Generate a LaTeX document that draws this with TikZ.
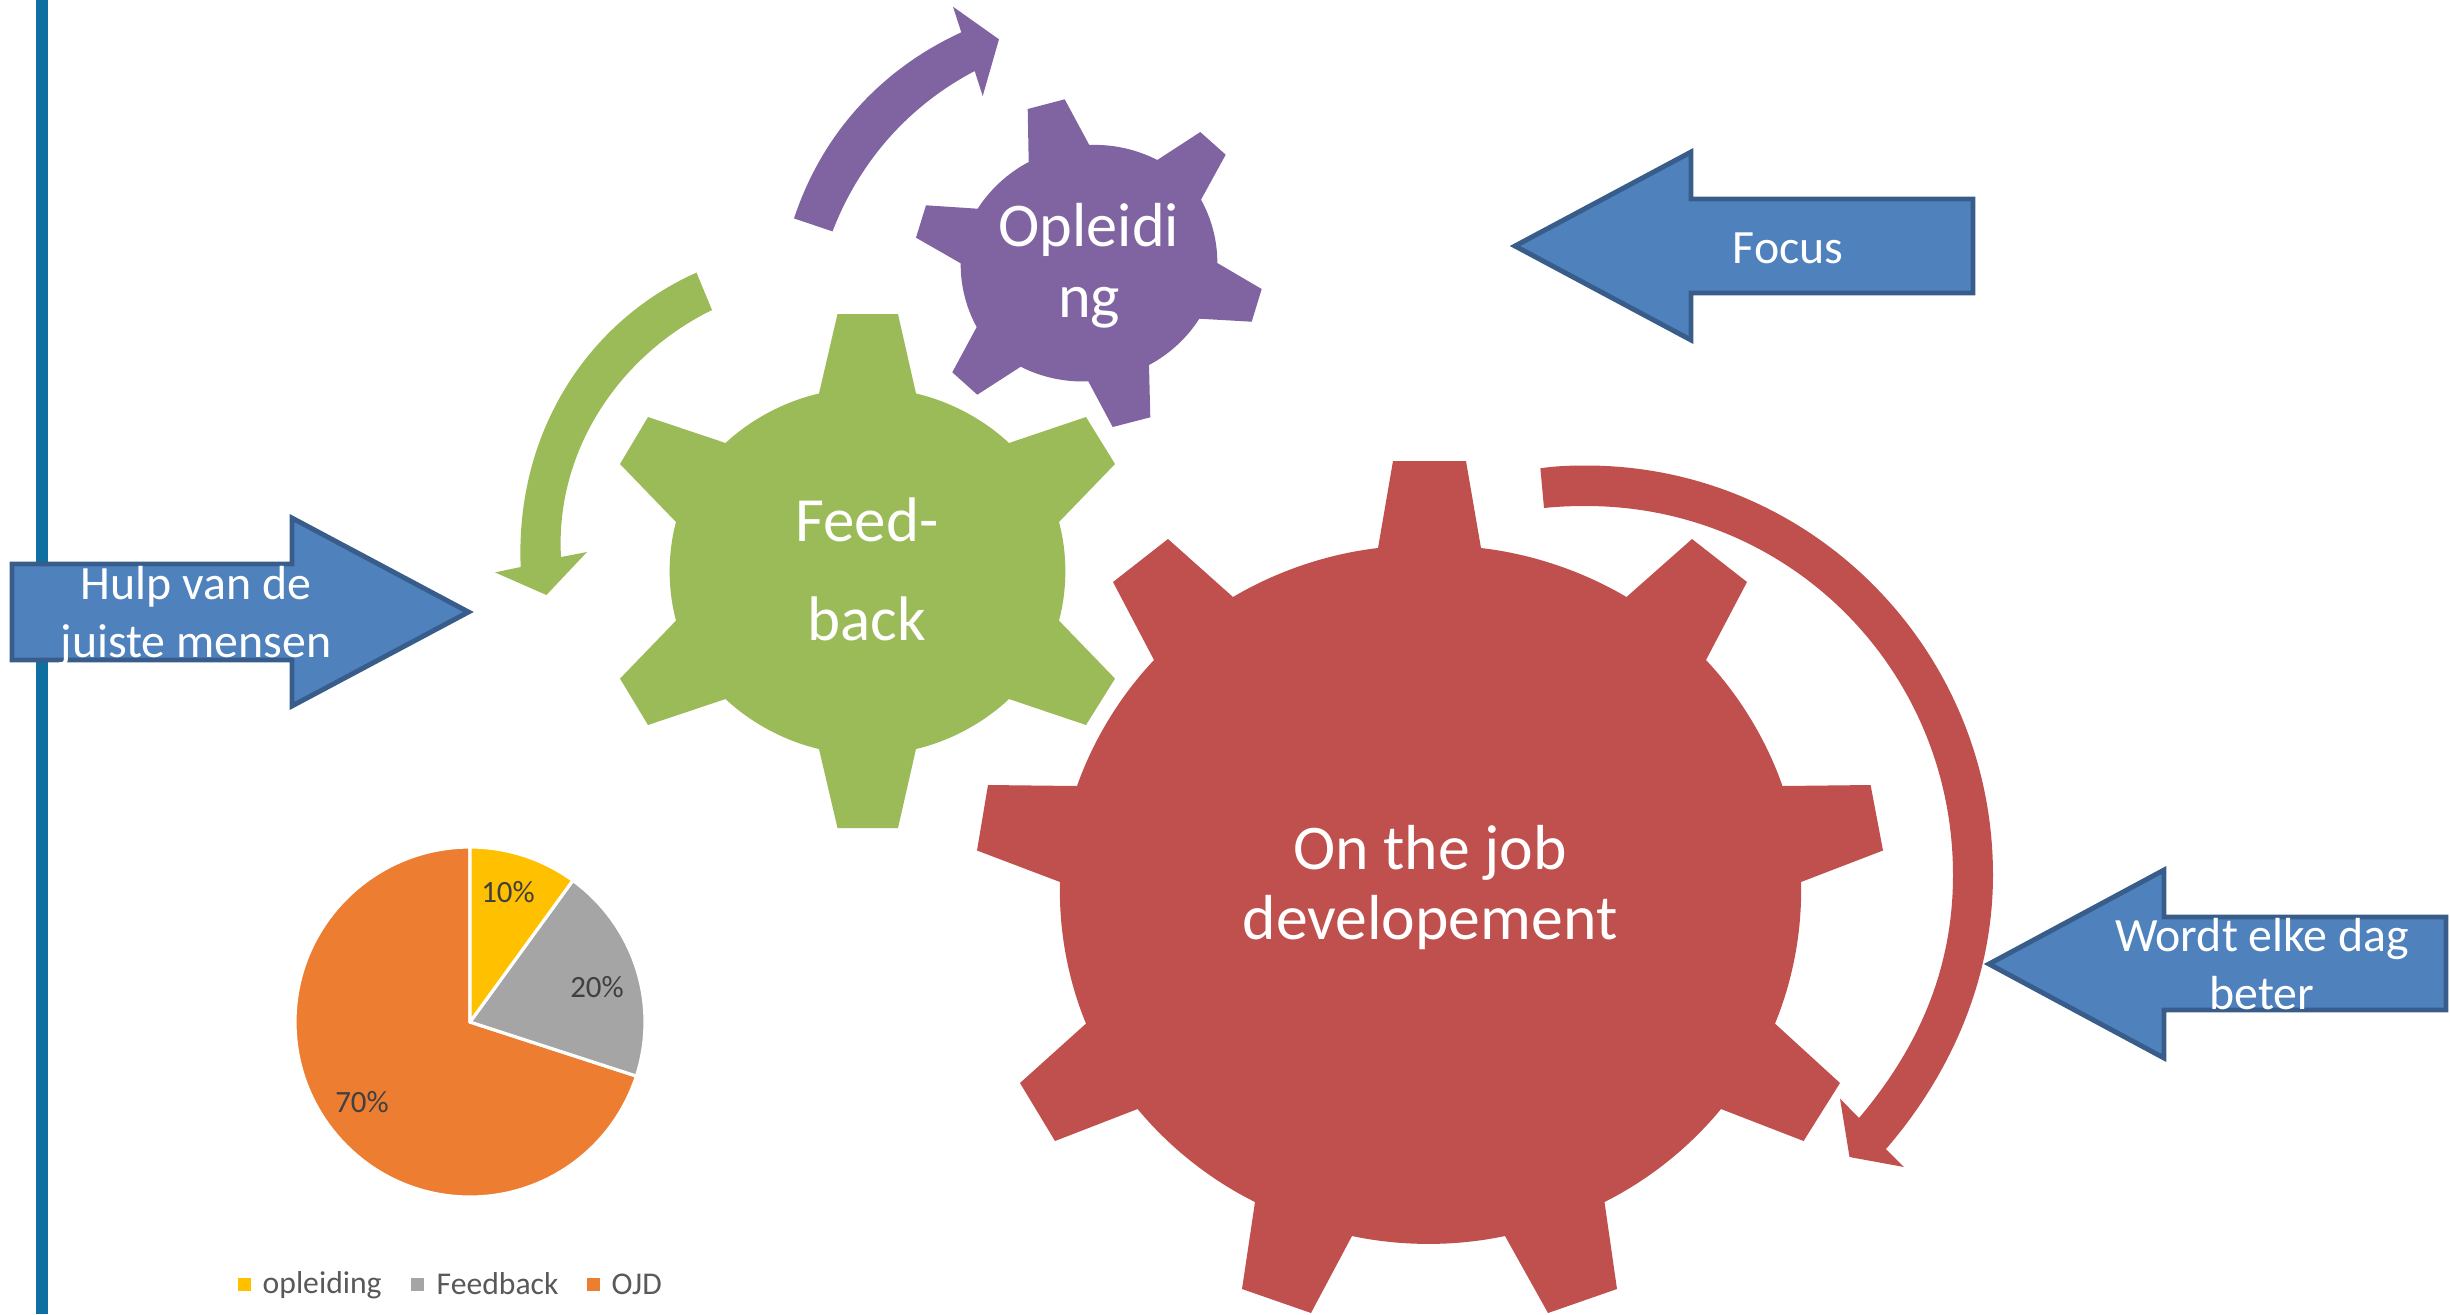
\documentclass[tikz,border=0pt]{standalone}
\usepackage{fontspec}
\setmainfont{Carlito}
\definecolor{gearred}{HTML}{C0504D}
\definecolor{geargreen}{HTML}{9BBB59}
\definecolor{gearpurple}{HTML}{8064A2}
\definecolor{blockblue}{HTML}{4F81BD}
\definecolor{blockedge}{HTML}{385D8A}
\definecolor{barblue}{HTML}{0F6FA0}
\definecolor{pieyellow}{HTML}{FFC000}
\definecolor{piegray}{HTML}{A5A5A5}
\definecolor{pieorange}{HTML}{ED7D31}
\definecolor{labelgray}{HTML}{404040}
\definecolor{legendgray}{HTML}{595959}
\tikzset{
  blockarrow/.style={fill=blockblue,draw=blockedge,line width=1.4pt,miter limit=10},
  slice/.style={draw=white,line width=0.9pt,line join=round},
  geartext/.style={text=white,align=center,inner sep=0pt},
  blocktext/.style={text=white,align=center,inner sep=0pt,font=\fontsize{13.6}{16.6}\selectfont},
  pctlabel/.style={text=labelgray,inner sep=0pt,font=\fontsize{8.8}{10}\selectfont},
  legendlabel/.style={text=legendgray,inner sep=0pt,anchor=west,font=\fontsize{9}{10}\selectfont},
}
\begin{document}
\begin{tikzpicture}[x=0.01cm,y=-0.01cm]
\useasboundingbox (0,0) rectangle (2450,1314);
% vertical bar
\fill[barblue] (36,0) rectangle (48,1314);

% red gear
\fill[gearred,every to/.style={bend left=12,looseness=0.85}] (1393,461)--(1466,461)--(1481,548) to (1626.5,597)--(1692,539)--(1747,582)--(1706,660) to (1782.5,786)--(1870.6,785)--(1883,850.5)--(1801,882) to (1775,1023.6)--(1840,1083)--(1803.6,1141)--(1721,1109) to (1604.5,1202)--(1617,1289)--(1548,1313)--(1505,1236) to (1352,1236)--(1311,1313)--(1242,1289)--(1255,1202) to (1137.6,1109)--(1055,1141)--(1020,1083)--(1086,1023.6) to (1060,882)--(977,850.5)--(988,785)--(1077,786) to (1154,660)--(1113,582)--(1168,539)--(1233,597) to (1378,548)--cycle;

% green gear
\fill[geargreen,every to/.style={bend left=15,looseness=0.85}] (837.5,314)--(898,314)--(916,393.5) to (1009,443)--(1086,417)--(1115,464)--(1059,522) to (1059,620.6)--(1115,678.6)--(1086,725)--(1009,699) to (916,749)--(898,828)--(837.5,828)--(819,749) to (725.5,699)--(648,725)--(620,678.6)--(676,620.6) to (676,522)--(620,464)--(648,417)--(725.5,443) to (819,393.5)--cycle;

% purple gear
\fill[gearpurple,every to/.style={bend left=15,looseness=0.85}] (1027.7,109)--(1064.7,99.3)--(1089.3,145) to (1157.3,160)--(1200.3,132)--(1225.7,154.7)--(1201,199.7) to (1217.3,263)--(1261.7,289)--(1251.7,321.7)--(1199.3,318.7) to (1149,365)--(1150.3,417.3)--(1112.7,427)--(1088.3,381.3) to (1020.7,366.7)--(977.3,394.7)--(952.3,372.3)--(976.7,327) to (960.7,263.3)--(916,237.7)--(926,205.3)--(977.7,208.7) to (1028.7,162)--cycle;

% curved arrows
\fill[gearpurple] (794,218.4) .. controls (825,125) and (890,65) .. (961.3,32.3) -- (953,6.7) -- (999,39.3) -- (982.7,96) -- (974.7,71) .. controls (910,105) and (860,160) .. (832.5,231.4) -- cycle;
\fill[geargreen] (696.5,272.6) .. controls (590,320) and (515,430) .. (520.7,567) -- (495,572.4) -- (546.4,595) -- (587,552) -- (561,557) .. controls (555,450) and (620,355) .. (712,310) -- cycle;
\fill[gearred] (1540.4,468.3) .. controls (1555,466) and (1570,465.5) .. (1586,465.5) .. controls (1811,465.5) and (1993,649) .. (1993,875) .. controls (1993,980) and (1950,1075) .. (1886,1149) -- (1904,1167) -- (1849.5,1157) -- (1840,1098.5) -- (1859,1118) .. controls (1925,1040) and (1953,960) .. (1953,875) .. controls (1953,670) and (1790,506) .. (1586,506) .. controls (1572,506) and (1558,506.5) .. (1544,508) -- cycle;

% block arrows
\draw[blockarrow] (12,564)--(292,564)--(292,518)--(468.5,612)--(292,706)--(292,660)--(12,660)--cycle;
\draw[blockarrow] (1973,199)--(1691,199)--(1691,152)--(1515,246)--(1691,340)--(1691,293)--(1973,293)--cycle;
\draw[blockarrow] (2446,917)--(2164,917)--(2164,870)--(1989,964)--(2164,1058)--(2164,1010)--(2446,1010)--cycle;

% gear text
\node[geartext,font=\fontsize{18.1}{19.9}\selectfont] (ojd) at (1430,888) {On the job\\developement};
\node[geartext,font=\fontsize{17.9}{28}\selectfont] (feed) at (867,569.5) {Feed-\\back};
\node[geartext,font=\fontsize{17.7}{20.2}\selectfont] (opl) at (1089,266) {Opleidi\\ng};

% block text
\node[blocktext] (focus) at (1788,248) {Focus};
\node[blocktext] (hulp) at (196,616) {Hulp van de\\juiste mensen};
\node[blocktext] (wordt) at (2262,964) {Wordt elke dag\\beter};

% pie
\fill[pieorange,slice] (470,1022) -- (470,847) arc [start angle=-90,end angle=-342,radius=175] -- cycle;
\fill[piegray,slice] (470,1022) -- ({470+175*cos(54)},{1022-175*sin(54)}) arc [start angle=-54,end angle=18,radius=175] -- cycle;
\fill[pieyellow,slice] (470,1022) -- (470,847) arc [start angle=-90,end angle=-54,radius=175] -- cycle;
\node[pctlabel] (p10) at (508,892) {10\%};
\node[pctlabel] (p20) at (597,987) {20\%};
\node[pctlabel] (p70) at (362,1102) {70\%};

% legend
\fill[pieyellow] (238,1278) rectangle (251,1291);
\node[legendlabel] (l1) at (262,1285) {opleiding};
\fill[piegray] (411,1278) rectangle (424,1291);
\node[legendlabel] (l2) at (436,1284) {Feedback};
\fill[pieorange] (587,1278) rectangle (600,1291);
\node[legendlabel] (l3) at (611,1284) {OJD};
\end{tikzpicture}
\end{document}
